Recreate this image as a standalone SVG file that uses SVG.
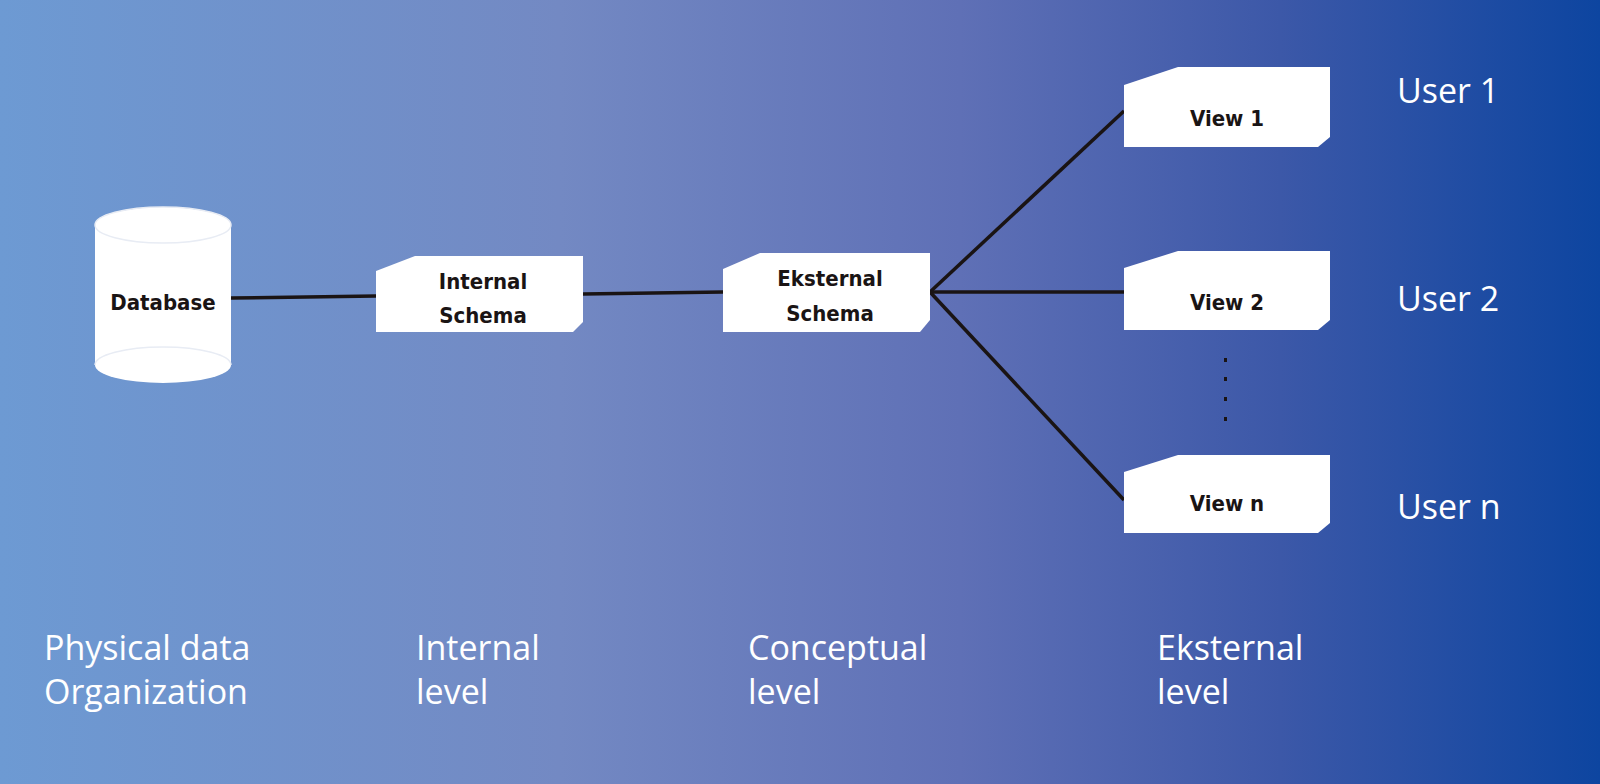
<svg xmlns="http://www.w3.org/2000/svg" width="1600" height="784" viewBox="0 0 1600 784">
<defs>
<linearGradient id="bg" x1="0" y1="0" x2="1" y2="0">
<stop offset="0" stop-color="#6d9ad3"/>
<stop offset="0.35" stop-color="#7389c3"/>
<stop offset="0.6" stop-color="#5f70b6"/>
<stop offset="0.8" stop-color="#3c58a8"/>
<stop offset="1" stop-color="#0d45a0"/>
</linearGradient>
<style>
.box{fill:#fff}
.lbl{font-family:"DejaVu Sans Condensed","DejaVu Sans",sans-serif;font-weight:bold;font-size:22px;fill:#1a1414;text-anchor:middle}
.cap{font-family:"Open Sans","Noto Sans",sans-serif;font-size:34px;fill:#fff}
.ln{stroke:#1a1414;stroke-width:3.5;fill:none}
</style>
</defs>
<rect width="1600" height="784" fill="url(#bg)"/>
<g id="connectors">
<line class="ln" x1="231" y1="298" x2="376" y2="296"/>
<line class="ln" x1="583" y1="294" x2="723" y2="292"/>
<line class="ln" x1="930" y1="292" x2="1124" y2="111"/>
<line class="ln" x1="930" y1="292" x2="1124" y2="292"/>
<line class="ln" x1="930" y1="292" x2="1124" y2="500"/>
</g>
<g id="database">
<path class="box" d="M95,225 V365 A68,18 0 0 0 231,365 V225 A68,18 0 0 0 95,225 Z"/>
<ellipse cx="163" cy="225" rx="68" ry="18" fill="none" stroke="#e8ecf4" stroke-width="1.5"/>
<path d="M95,365 A68,18 0 0 1 231,365" fill="none" stroke="#e8ecf4" stroke-width="1.5"/>
<text class="lbl" x="163" y="310" font-size="26">Database</text>
</g>
<g id="internal">
<path class="box" d="M376,271 L415,256 H583 V322 L573,332 H376 Z"/>
<text class="lbl" x="483" y="289">Internal</text>
<text class="lbl" x="483" y="323">Schema</text>
</g>
<g id="eksternal">
<path class="box" d="M723,269 L760,253 H930 V320 L920,332 H723 Z"/>
<text class="lbl" x="830" y="286">Eksternal</text>
<text class="lbl" x="830" y="321">Schema</text>
</g>
<g id="view1">
<path class="box" d="M1124,85 L1178,67 H1330 V137 L1318,147 H1124 Z"/>
<text class="lbl" x="1227" y="126">View 1</text>
</g>
<g id="view2">
<path class="box" d="M1124,268 L1178,251 H1330 V320 L1318,330 H1124 Z"/>
<text class="lbl" x="1227" y="310">View 2</text>
</g>
<g id="viewn">
<path class="box" d="M1124,472 L1178,455 H1330 V523 L1318,533 H1124 Z"/>
<text class="lbl" x="1227" y="511">View n</text>
</g>
<g id="dots" fill="#1a1414">
<rect x="1224" y="358" width="3" height="4"/>
<rect x="1224" y="377" width="3" height="4"/>
<rect x="1224" y="397" width="3" height="4"/>
<rect x="1224" y="417" width="3" height="4"/>
</g>
<g id="captions">
<text class="cap" x="1397" y="103">User 1</text>
<text class="cap" x="1397" y="311">User 2</text>
<text class="cap" x="1397" y="519">User n</text>
<text class="cap" x="44" y="660">Physical data</text>
<text class="cap" x="44" y="704">Organization</text>
<text class="cap" x="416" y="660">Internal</text>
<text class="cap" x="416" y="704">level</text>
<text class="cap" x="748" y="660">Conceptual</text>
<text class="cap" x="748" y="704">level</text>
<text class="cap" x="1157" y="660">Eksternal</text>
<text class="cap" x="1157" y="704">level</text>
</g>
</svg>
